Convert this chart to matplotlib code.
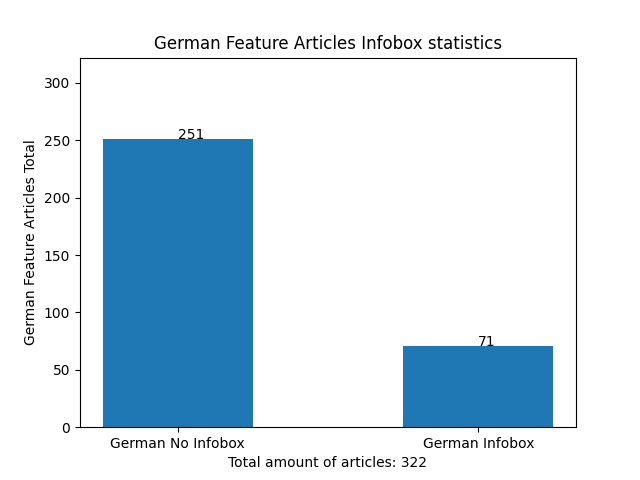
import matplotlib
matplotlib.use('Agg')
import matplotlib.pyplot as plt

categories = ['German No Infobox', 'German Infobox']
counts = [251, 71]
total = sum(counts)

plt.figure(figsize=(6.4, 4.8), dpi=100)
plt.bar(categories, counts, width=0.5, color='#1f77b4')
for i, v in enumerate(counts):
    plt.text(i, v, str(v))
plt.ylim(0, total)
plt.title('German Feature Articles Infobox statistics')
plt.ylabel('German Feature Articles Total')
plt.xlabel(f'Total amount of articles: {total}')
plt.savefig('out.png')
